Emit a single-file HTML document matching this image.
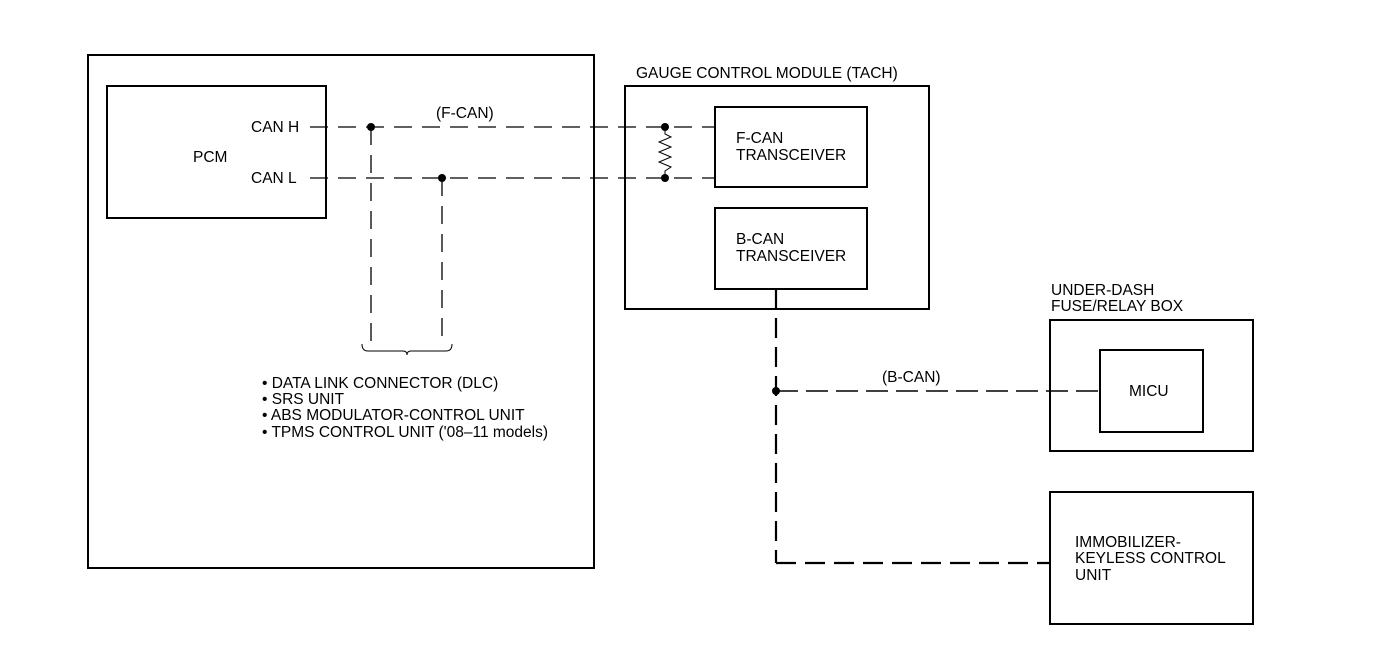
<!DOCTYPE html>
<html><head><meta charset="utf-8"><style>
html,body{margin:0;padding:0;background:#fff;}
svg{display:block;}
text{font-family:"Liberation Sans",Arial,sans-serif;font-size:15.5px;fill:#000;}
</style></head><body>
<svg width="1376" height="672" viewBox="0 0 1376 672" xmlns="http://www.w3.org/2000/svg">
<g fill="none" stroke="#000" stroke-width="2">
<rect x="88" y="55" width="506" height="513"/>
<rect x="107" y="86" width="219" height="132"/>
<rect x="625" y="86" width="304" height="223"/>
<rect x="715" y="107" width="152" height="80"/>
<rect x="715" y="208" width="152" height="81"/>
<rect x="1050" y="320" width="203" height="131"/>
<rect x="1100" y="350" width="103" height="82"/>
<rect x="1050" y="492" width="203" height="132"/>
</g>
<g fill="none" stroke="#000" stroke-width="1.3" stroke-dasharray="18,10">
<line x1="310" y1="127" x2="715" y2="127"/>
<line x1="310" y1="178" x2="715" y2="178"/>
<line x1="371" y1="127" x2="371" y2="345"/>
<line x1="442" y1="178" x2="442" y2="345"/>
</g>
<g fill="none" stroke="#000" stroke-width="2.2" stroke-dasharray="20,9">
<line x1="776" y1="289" x2="776" y2="563"/>
<line x1="776" y1="563" x2="1050" y2="563"/>
</g>
<g fill="none" stroke="#000" stroke-width="1.5" stroke-dasharray="22,8">
<line x1="776" y1="391" x2="1100" y2="391"/>
</g>
<path d="M362 344 Q362 351 368 351 L403 351 Q407 351 407 355 Q407 351 411 351 L446 351 Q452 351 452 344" fill="none" stroke="#000" stroke-width="1"/>
<path d="M665 127 L665 134 L671 137 L659 142 L671 147 L659 152 L671 157 L659 162 L671 167 L665 171 L665 178" fill="none" stroke="#000" stroke-width="1"/>
<g fill="#000">
<circle cx="371" cy="127" r="4"/>
<circle cx="442" cy="178" r="4"/>
<circle cx="665" cy="127" r="4"/>
<circle cx="665" cy="178" r="4"/>
<circle cx="776" cy="391" r="4"/>
</g>
<text x="251" y="132">CAN H</text>
<text x="251" y="183">CAN L</text>
<text x="193" y="162">PCM</text>
<text x="436" y="118">(F-CAN)</text>
<text x="636" y="78">GAUGE CONTROL MODULE (TACH)</text>
<text x="736" y="143">F-CAN</text>
<text x="736" y="160">TRANSCEIVER</text>
<text x="736" y="244">B-CAN</text>
<text x="736" y="261">TRANSCEIVER</text>
<text x="1051" y="295">UNDER-DASH</text>
<text x="1051" y="311">FUSE/RELAY BOX</text>
<text x="1129" y="396">MICU</text>
<text x="882" y="382">(B-CAN)</text>
<text x="1075" y="547">IMMOBILIZER-</text>
<text x="1075" y="563">KEYLESS CONTROL</text>
<text x="1075" y="580">UNIT</text>
<text x="262" y="388">• DATA LINK CONNECTOR (DLC)</text>
<text x="262" y="404">• SRS UNIT</text>
<text x="262" y="420">• ABS MODULATOR-CONTROL UNIT</text>
<text x="262" y="437">• TPMS CONTROL UNIT ('08–11 models)</text>
</svg>
</body></html>
